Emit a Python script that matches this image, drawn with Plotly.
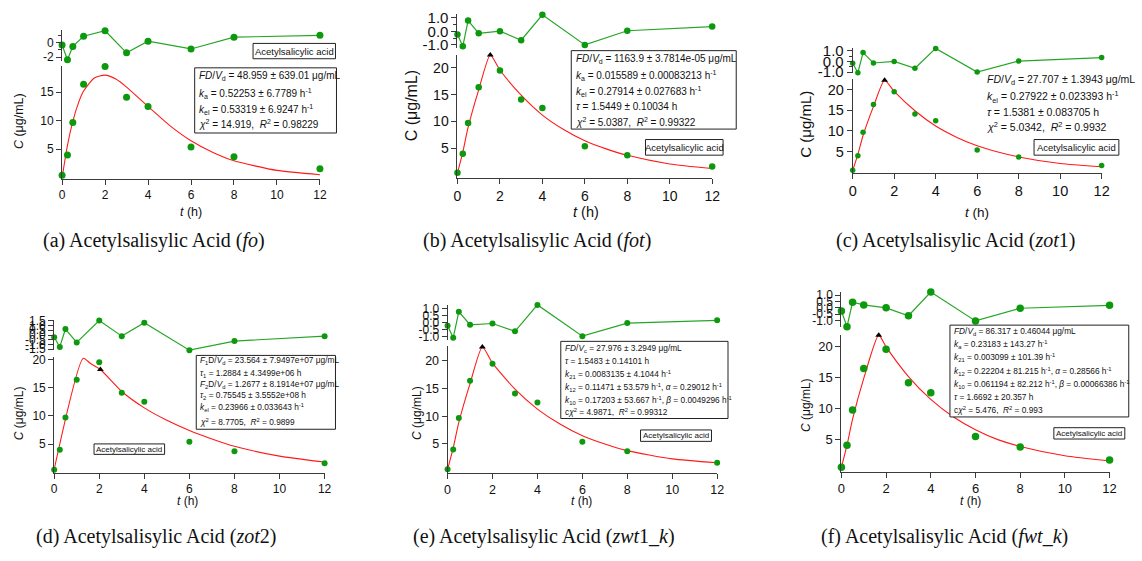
import plotly.graph_objects as go

W, H = 1142, 561

# ---------------- data ----------------
t_obs = [0, 0.25, 0.5, 1, 2, 3, 4, 6, 8, 12]
c_obs = [0.45, 4.0, 9.7, 16.4, 19.5, 14.1, 12.5, 5.4, 3.7, 1.6]

res_a = [-0.31, -2.36, -0.5, 0.91, 1.69, -1.4, 0.23, -0.86, 0.78, 1.05]
res_b = [-0.22, -1.1, 0.8, -0.14, 0.02, -0.65, 1.23, -1.0, 0.05, 0.36]
res_c = [-0.18, -1.06, 0.82, -0.15, 0.0, -0.64, 1.21, -1.0, 0.03, 0.36]
res_d = [-0.23, -1.26, 0.63, -0.78, 1.53, -0.12, 1.29, -1.6, -0.64, -0.12]
res_e = [-0.21, -1.08, 0.8, -0.14, -0.05, -0.61, 1.29, -0.96, -0.02, 0.18]
res_f = [-0.25, -1.48, 0.44, 0.23, 0.0, -0.62, 1.25, -1.03, -0.03, 0.2]

fit_a_t = [0, 0.25, 0.5, 0.75, 1, 1.5, 2, 2.5, 3, 4, 5, 6, 7, 8, 10, 12]
fit_a_c = [0.0, 5.7, 9.9, 13.0, 15.2, 17.5, 18.0, 17.3, 15.9, 12.5, 9.2, 6.5, 4.5, 3.0, 1.3, 0.55]

fit_b_t = [0, 0.25, 0.5, 1, 1.545, 2, 3, 4, 5, 6, 7, 8, 10, 12]
fit_b_c = [0.4, 4.3, 8.9, 15.9, 22.4, 19.6, 14.9, 11.2, 8.5, 6.4, 4.9, 3.7, 2.1, 1.25]

fit_c_t = [0, 0.25, 0.5, 1, 1.538, 2, 3, 4, 5, 6, 7, 8, 10, 12]
fit_c_c = [0.4, 4.3, 8.9, 15.9, 22.3, 19.6, 14.9, 11.2, 8.5, 6.4, 4.9, 3.7, 2.1, 1.3]

fit_d_t = [0, 1.29, 1.6, 2.05, 3, 4, 5, 6, 7, 8, 10, 12]
fit_d_c = [0.5, 20.2, 19.3, 18.2, 14.3, 11.4, 9.2, 7.4, 5.9, 4.6, 2.85, 1.8]

fit_e_t = [0, 0.25, 0.5, 1, 1.548, 2, 3, 4, 5, 6, 7, 8, 10, 12]
fit_e_c = [0.4, 4.3, 8.9, 15.9, 22.5, 19.6, 14.9, 11.3, 8.6, 6.5, 5.0, 3.8, 2.3, 1.6]

fit_f_t = [0, 0.25, 0.5, 1, 1.669, 2, 3, 4, 5, 6, 7, 8, 10, 12]
fit_f_c = [0.4, 4.0, 8.2, 14.8, 21.8, 19.9, 15.1, 11.4, 8.6, 6.5, 4.9, 3.8, 2.3, 1.45]

peak_t = [1.545, 1.538, 2.05, 1.548, 1.669]
peak_c = [22.4, 22.3, 18.2, 22.5, 21.8]

x_ticks = [0, 2, 4, 6, 8, 10, 12]
main_ticks_a = [5, 10, 15]
main_ticks = [5, 10, 15, 20]
res_ticks_a = [2, 0, -2]
res_labels_a = ["2", "0", "-2"]
res_ticks_1 = [1, 0, -1]
res_labels_1 = ["1.0", "0.0", "-1.0"]
res_ticks_d = [1.5, 1, 0.5, 0, -0.5, -1, -1.5]
res_labels_d = ["1.5", "1.0", "0.5", "0.0", "-0.5", "-1.0", "-1.5"]
res_ticks_e = [1, 0.5, 0, -0.5, -1]
res_labels_e = ["1.0", "0.5", "0.0", "-0.5", "-1.0"]

legend_text = "Acetylsalicylic acid"

params_a = ["<i>FD</i>/<i>V</i><sub>d</sub> = 48.959 ± 639.01 μg/mL",
            "<i>k</i><sub>a</sub> = 0.52253 ± 6.7789 h<sup>-1</sup>",
            "<i>k</i><sub>el</sub> = 0.53319 ± 6.9247 h<sup>-1</sup>",
            "<i>χ</i><sup>2</sup> = 14.919,  <i>R</i><sup>2</sup> = 0.98229"]
params_b = ["<i>FD</i>/<i>V</i><sub>d</sub> = 1163.9 ± 3.7814e-05 μg/mL",
            "<i>k</i><sub>a</sub> = 0.015589 ± 0.00083213 h<sup>-1</sup>",
            "<i>k</i><sub>el</sub> = 0.27914 ± 0.027683 h<sup>-1</sup>",
            "<i>τ</i> = 1.5449 ± 0.10034 h",
            "<i>χ</i><sup>2</sup> = 5.0387,  <i>R</i><sup>2</sup> = 0.99322"]
params_c = ["<i>FD</i>/<i>V</i><sub>d</sub> = 27.707 ± 1.3943 μg/mL",
            "<i>k</i><sub>el</sub> = 0.27922 ± 0.023393 h<sup>-1</sup>",
            "<i>τ</i> = 1.5381 ± 0.083705 h",
            "<i>χ</i><sup>2</sup> = 5.0342,  <i>R</i><sup>2</sup> = 0.9932"]
params_d = ["<i>F</i><sub>1</sub>D/<i>V</i><sub>d</sub> = 23.564 ± 7.9497e+07 μg/mL",
            "<i>τ</i><sub>1</sub> = 1.2884 ± 4.3499e+06 h",
            "<i>F</i><sub>2</sub>D/<i>V</i><sub>d</sub> = 1.2677 ± 8.1914e+07 μg/mL",
            "<i>τ</i><sub>2</sub> = 0.75545 ± 3.5552e+08 h",
            "<i>k</i><sub>el</sub> = 0.23966 ± 0.033643 h<sup>-1</sup>",
            "<i>χ</i><sup>2</sup> = 8.7705,  <i>R</i><sup>2</sup> = 0.9899"]
params_e = ["<i>FD</i>/<i>V</i><sub>c</sub> = 27.976 ± 3.2949 μg/mL",
            "<i>τ</i> = 1.5483 ± 0.14101 h",
            "<i>k</i><sub>21</sub> = 0.0083135 ± 4.1044 h<sup>-1</sup>",
            "<i>k</i><sub>12</sub> = 0.11471 ± 53.579 h<sup>-1</sup>, <i>α</i> = 0.29012 h<sup>-1</sup>",
            "<i>k</i><sub>10</sub> = 0.17203 ± 53.667 h<sup>-1</sup>, <i>β</i> = 0.0049296 h<sup>-1</sup>",
            "c<i>χ</i><sup>2</sup> = 4.9871,  <i>R</i><sup>2</sup> = 0.99312"]
params_f = ["<i>FD</i>/<i>V</i><sub>d</sub> = 86.317 ± 0.46044 μg/mL",
            "<i>k</i><sub>a</sub> = 0.23183 ± 143.27 h<sup>-1</sup>",
            "<i>k</i><sub>21</sub> = 0.003099 ± 101.39 h<sup>-1</sup>",
            "<i>k</i><sub>12</sub> = 0.22204 ± 81.215 h<sup>-1</sup>, <i>α</i> = 0.28566 h<sup>-1</sup>",
            "<i>k</i><sub>10</sub> = 0.061194 ± 82.212 h<sup>-1</sup>, <i>β</i> = 0.00066386 h<sup>-1</sup>",
            "<i>τ</i> = 1.6692 ± 20.357 h",
            "c<i>χ</i><sup>2</sup> = 5.476,  <i>R</i><sup>2</sup> = 0.993"]

captions = ["(a) Acetylsalisylic Acid (<i>fo</i>)",
            "(b) Acetylsalisylic Acid (<i>fot</i>)",
            "(c) Acetylsalisylic Acid (<i>zot</i>1)",
            "(d) Acetylsalisylic Acid (<i>zot</i>2)",
            "(e) Acetylsalisylic Acid (<i>zwt</i>1_<i>k</i>)",
            "(f) Acetylsalisylic Acid (<i>fwt</i>_<i>k</i>)"]

# ---------------- layout geometry (pixels) ----------------
SANS = "Liberation Sans, Arial, sans-serif"
SERIF = "Liberation Serif, Times New Roman, serif"
GREEN = "#0d990d"
RGREEN = "#26a626"
AXC = "#3a3a3a"

panels = [
    dict(res=res_a, ft=fit_a_t, fc=fit_a_c, peak=None,
         x0=58.7, x1=319.3, ry=(25, 56), rr=(-2.5, 1.73), my=(61.4, 177), mr=(-0.19, 19.6),
         rtv=res_ticks_a, rtt=res_labels_a, rminor=[1, -1], mtv=main_ticks_a,
         tfont=12, rfont=12, msize=7,
         ytitle="<i>C</i> (μg/mL)", ytx=15, yty=118, ytfont=12.5,
         xtx=189, xty=211, xtfont=12.5,
         params=params_a, pbox=(192.7, 63.3, 336, 130), px=195, py=[71.5, 89.5, 105.5, 121], pfont=10,
         lbox=(251.7, 38.3, 335, 54), lfont=9.5,
         cap=captions[0], capx=152, capy=240),
    dict(res=res_b, ft=fit_b_t, fc=fit_b_c, peak=0,
         x0=458.3, x1=715.7, ry=(8.3, 43.3), rr=(-1.25, 1.28), my=(50, 176.5), mr=(-0.6, 22.42),
         rtv=res_ticks_1, rtt=res_labels_1, rminor=[0.5, -0.5], mtv=main_ticks,
         tfont=14, rfont=15, msize=6.5,
         ytitle="C (μg/mL)", ytx=412, yty=102, ytfont=16,
         xtx=588, xty=211, xtfont=14.5,
         params=params_b, pbox=(573.3, 45.7, 740, 126), px=576, py=[54, 71, 87.5, 102.7, 118.3], pfont=10,
         lbox=(648.3, 136.7, 726.7, 152.7), lfont=9.5,
         cap=captions[1], capx=539, capy=240),
    dict(res=res_c, ft=fit_c_t, fc=fit_c_c, peak=1,
         x0=857.7, x1=1109.3, ry=(43.3, 69), rr=(-1.12, 1.22), my=(75, 170.7), mr=(-0.14, 22.55),
         rtv=res_ticks_1, rtt=res_labels_1, rminor=[0.5, -0.5], mtv=main_ticks,
         tfont=14.5, rfont=15, msize=5.5,
         ytitle="C (μg/mL)", ytx=810, yty=121, ytfont=15,
         xtx=983, xty=211, xtfont=13.5,
         params=params_c, pbox=None, px=991.7, py=[76, 92.7, 108.3, 123.3], pfont=10.5,
         lbox=(1041, 136.7, 1126.7, 152.7), lfont=9.5,
         cap=captions[2], capx=962, capy=240),
    dict(res=res_d, ft=fit_d_t, fc=fit_d_c, peak=2,
         x0=50.7, x1=324, ry=(321.7, 352.5), rr=(-1.62, 1.56), my=(359.7, 477.7), mr=(-0.07, 20.35),
         rtv=res_ticks_d, rtt=res_labels_d, rminor=[], mtv=main_ticks,
         tfont=12, rfont=12, msize=6,
         ytitle="<i>C</i> (μg/mL)", ytx=15, yty=417, ytfont=12,
         xtx=185, xty=507, xtfont=12,
         params=params_d, pbox=(194.3, 357.7, 335, 433.3), px=196,
         py=[363.3, 376, 387.7, 398.3, 411, 425.7], pfont=8.3,
         lbox=(91, 448.3, 162.3, 459), lfont=8,
         cap=captions[3], capx=154, capy=543),
    dict(res=res_e, ft=fit_e_t, fc=fit_e_c, peak=3,
         x0=448.3, x1=720.7, ry=(305.7, 341.7), rr=(-1.22, 1.31), my=(348, 477.7), mr=(-0.18, 22.7),
         rtv=res_ticks_e, rtt=res_labels_e, rminor=[], mtv=main_ticks,
         tfont=12.5, rfont=12, msize=6,
         ytitle="<i>C</i> (μg/mL)", ytx=418, yty=417, ytfont=12,
         xtx=584, xty=507, xtfont=12,
         params=params_e, pbox=(562.7, 343.3, 731.7, 422.3), px=565,
         py=[350.7, 363.9, 377.1, 390.3, 403.5, 415.7], pfont=8.3,
         lbox=(643.3, 434, 715, 445.7), lfont=8,
         cap=captions[4], capx=546, capy=543),
    dict(res=res_f, ft=fit_f_t, fc=fit_f_c, peak=4,
         x0=846.3, x1=1117.3, ry=(292.4, 328.5), rr=(-1.5, 1.28), my=(336.3, 476.7), mr=(-0.28, 21.9),
         rtv=res_ticks_e, rtt=res_labels_e, rminor=[], mtv=main_ticks,
         tfont=13, rfont=12, msize=7.5,
         ytitle="<i>C</i> (μg/mL)", ytx=810, yty=408, ytfont=12,
         xtx=977, xty=507, xtfont=12,
         params=params_f, pbox=(956, 326.7, 1136.7, 420.7), px=958,
         py=[333.3, 346.7, 360.3, 373.7, 387, 400.7, 414], pfont=8.3,
         lbox=(1061, 431.7, 1132.7, 443.3), lfont=8,
         cap=captions[5], capx=950, capy=543),
]


def fx(px):
    return px / W


def fy(py):
    return 1 - py / H


fig = go.Figure()
layout = {}
annotations = []
shapes = []

for i, p in enumerate(panels):
    n_rx, n_ry, n_mx, n_my = 4 * i + 1, 4 * i + 2, 4 * i + 3, 4 * i + 4
    def ax(n):
        return "" if n == 1 else str(n)
    rx, ry, mx, my = ax(n_rx), ax(n_ry), ax(n_mx), ax(n_my)
    xdom = [fx(p["x0"]), fx(p["x1"])]

    layout["xaxis" + rx] = dict(domain=xdom, range=[0, 12], anchor="y" + ry, visible=False)
    layout["yaxis" + ry] = dict(
        domain=[fy(p["ry"][1]), fy(p["ry"][0])], range=list(p["rr"]), anchor="x" + rx,
        showline=True, linecolor=AXC, linewidth=1, ticks="outside", ticklen=5, tickcolor=AXC,
        tickmode="array", tickvals=p["rtv"], ticktext=p["rtt"], showgrid=False, zeroline=False,
        tickfont=dict(family=SANS, size=p["rfont"], color="#111"),
        minor=dict(tickvals=p["rminor"], ticks="outside", ticklen=3, tickcolor=AXC, showgrid=False),
    )
    layout["xaxis" + mx] = dict(
        domain=xdom, range=[0, 12], anchor="y" + my, showline=True, linecolor=AXC, linewidth=1,
        ticks="outside", ticklen=5, tickcolor=AXC, tickmode="array", tickvals=x_ticks,
        showgrid=False, zeroline=False, tickfont=dict(family=SANS, size=p["tfont"], color="#111"),
    )
    layout["yaxis" + my] = dict(
        domain=[fy(p["my"][1]), fy(p["my"][0])], range=list(p["mr"]), anchor="x" + mx,
        showline=True, linecolor=AXC, linewidth=1, ticks="outside", ticklen=5, tickcolor=AXC,
        tickmode="array", tickvals=p["mtv"], showgrid=False, zeroline=False,
        tickfont=dict(family=SANS, size=p["tfont"], color="#111"),
    )

    # residuals
    fig.add_trace(go.Scatter(x=t_obs, y=p["res"], xaxis="x" + rx, yaxis="y" + ry,
                             mode="lines+markers", line=dict(color=RGREEN, width=1.2),
                             marker=dict(color=GREEN, size=p["msize"]), cliponaxis=False,
                             showlegend=False))
    # fit curve
    fig.add_trace(go.Scatter(x=p["ft"], y=p["fc"], xaxis="x" + mx, yaxis="y" + my,
                             mode="lines", line=dict(color="#ff1a1a", width=1.1, shape="spline", smoothing=0.6),
                             cliponaxis=False, showlegend=False))
    # observed points
    fig.add_trace(go.Scatter(x=t_obs, y=c_obs, xaxis="x" + mx, yaxis="y" + my,
                             mode="markers", marker=dict(color=GREEN, size=p["msize"]),
                             cliponaxis=False, showlegend=False))
    # peak marker
    if p["peak"] is not None:
        k = p["peak"]
        fig.add_trace(go.Scatter(x=[peak_t[k]], y=[peak_c[k]], xaxis="x" + mx, yaxis="y" + my,
                                 mode="markers", marker=dict(color="black", size=6, symbol="triangle-up"),
                                 cliponaxis=False, showlegend=False))

    # axis titles
    annotations.append(dict(text=p["ytitle"], x=fx(p["ytx"]), y=fy(p["yty"]), xref="paper", yref="paper",
                            textangle=-90, showarrow=False, xanchor="center", yanchor="middle",
                            font=dict(family=SANS, size=p["ytfont"], color="#111")))
    annotations.append(dict(text="<i>t</i> (h)", x=fx(p["xtx"]), y=fy(p["xty"]), xref="paper", yref="paper",
                            showarrow=False, xanchor="center", yanchor="middle",
                            font=dict(family=SANS, size=p["xtfont"], color="#111")))
    # parameter box
    if p["pbox"] is not None:
        b = p["pbox"]
        shapes.append(dict(type="rect", xref="paper", yref="paper", x0=fx(b[0]), x1=fx(b[2]),
                           y0=fy(b[3]), y1=fy(b[1]), line=dict(color="#222", width=1),
                           fillcolor="white", layer="above"))
    for line_text, ly in zip(p["params"], p["py"]):
        annotations.append(dict(text=line_text, x=fx(p["px"]), y=fy(ly), xref="paper", yref="paper",
                                showarrow=False, xanchor="left", yanchor="middle",
                                font=dict(family=SANS, size=p["pfont"], color="#111")))
    # legend box
    lb = p["lbox"]
    shapes.append(dict(type="rect", xref="paper", yref="paper", x0=fx(lb[0]), x1=fx(lb[2]),
                       y0=fy(lb[3]), y1=fy(lb[1]), line=dict(color="#222", width=1),
                       fillcolor="white", layer="above"))
    annotations.append(dict(text=legend_text, x=fx((lb[0] + lb[2]) / 2), y=fy((lb[1] + lb[3]) / 2),
                            xref="paper", yref="paper", showarrow=False, xanchor="center", yanchor="middle",
                            font=dict(family=SANS, size=p["lfont"], color="#111")))
    # caption
    annotations.append(dict(text=p["cap"], x=fx(p["capx"]), y=fy(p["capy"]), xref="paper", yref="paper",
                            showarrow=False, xanchor="center", yanchor="middle",
                            font=dict(family=SERIF, size=20, color="#111")))

fig.update_layout(width=W, height=H, margin=dict(l=0, r=0, t=0, b=0),
                  paper_bgcolor="white", plot_bgcolor="rgba(0,0,0,0)",
                  annotations=annotations, shapes=shapes, **layout)

fig.write_html("out.html")
